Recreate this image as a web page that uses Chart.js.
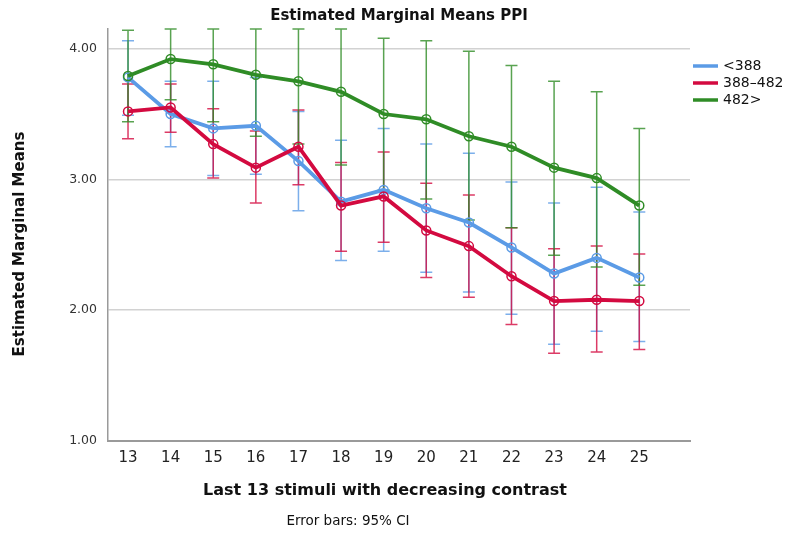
<!DOCTYPE html>
<html>
<head>
<meta charset="utf-8">
<script src="https://cdn.jsdelivr.net/npm/chart.js@4/dist/chart.umd.min.js"></script>
<style>
  body { margin: 0; background: #fff; }
  #wrap { width: 785px; height: 535px; }
</style>
</head>
<body>
<div id="wrap"><canvas id="emm-chart"></canvas></div>
<script>
// stimuli on the x axis
const stimuli = [13, 14, 15, 16, 17, 18, 19, 20, 21, 22, 23, 24, 25];
const yTicks = [1, 2, 3, 4];
const groupNames = ['<388', '388–482', '482>'];

// estimated marginal means per group, with 95% CI bounds
const meanLow = [3.78, 3.50, 3.39, 3.41, 3.14, 2.83, 2.92, 2.78, 2.67, 2.48, 2.28, 2.40, 2.25];
const lowerLow = [3.49, 3.25, 3.03, 3.04, 2.76, 2.38, 2.45, 2.29, 2.14, 1.97, 1.74, 1.84, 1.76];
const upperLow = [4.06, 3.75, 3.75, 3.78, 3.52, 3.30, 3.39, 3.27, 3.20, 2.98, 2.82, 2.94, 2.75];

const meanMid = [3.52, 3.55, 3.27, 3.09, 3.25, 2.80, 2.87, 2.61, 2.49, 2.26, 2.07, 2.08, 2.07];
const lowerMid = [3.31, 3.36, 3.01, 2.82, 2.96, 2.45, 2.52, 2.25, 2.10, 1.89, 1.67, 1.68, 1.70];
const upperMid = [3.73, 3.73, 3.54, 3.37, 3.53, 3.13, 3.21, 2.97, 2.88, 2.63, 2.47, 2.49, 2.43];

const meanHigh = [3.79, 3.92, 3.88, 3.80, 3.75, 3.67, 3.50, 3.46, 3.33, 3.25, 3.09, 3.01, 2.80];
const lowerHigh = [3.44, 3.61, 3.44, 3.33, 3.27, 3.11, 2.92, 2.85, 2.69, 2.63, 2.42, 2.33, 2.19];
const upperHigh = [4.14, 4.23, 4.32, 4.27, 4.23, 4.23, 4.08, 4.06, 3.98, 3.87, 3.75, 3.67, 3.39];

const FONT = 'DejaVu Sans';

function toPoints(values) {
  return stimuli.map((s, i) => ({ x: s, y: values[i] }));
}

// error bars, caps are drawn at the plot edge when the interval is cut off
const errorBars = {
  id: 'errorBars',
  beforeDatasetsDraw(chart) {
    const { ctx, chartArea, scales } = chart;
    ctx.save();
    chart.data.datasets.forEach((ds) => {
      ctx.strokeStyle = ds.barColor;
      ctx.lineWidth = 1.5;
      stimuli.forEach((s, i) => {
        const x = scales.x.getPixelForValue(s);
        const yTop = Math.max(chartArea.top, scales.y.getPixelForValue(ds.upper[i]));
        const yBot = Math.min(chartArea.bottom, scales.y.getPixelForValue(ds.lower[i]));
        ctx.beginPath();
        ctx.moveTo(x, yTop);
        ctx.lineTo(x, yBot);
        ctx.moveTo(x - 6, yTop);
        ctx.lineTo(x + 6, yTop);
        ctx.moveTo(x - 6, yBot);
        ctx.lineTo(x + 6, yBot);
        ctx.stroke();
      });
    });
    ctx.restore();
  },
};

// titles, footnote and legend
const texts = {
  id: 'texts',
  afterDraw(chart) {
    const { ctx, chartArea } = chart;
    const midX = (chartArea.left + chartArea.right) / 2;
    ctx.save();
    ctx.fillStyle = '#111';
    ctx.textAlign = 'center';
    ctx.textBaseline = 'middle';

    ctx.font = 'bold 15px ' + FONT;
    ctx.fillText('Estimated Marginal Means PPI', midX, 16);

    ctx.font = 'bold 16px ' + FONT;
    ctx.fillText('Last 13 stimuli with decreasing contrast', midX - 14, 491);

    ctx.font = 'bold 15px ' + FONT;
    ctx.save();
    ctx.translate(20, 244);
    ctx.rotate(-Math.PI / 2);
    ctx.fillText('Estimated Marginal Means', 0, 0);
    ctx.restore();

    ctx.font = '13.5px ' + FONT;
    ctx.fillText('Error bars: 95% CI', 348, 521);

    ctx.textAlign = 'left';
    ctx.font = '14px ' + FONT;
    chart.data.datasets.forEach((ds, i) => {
      const y = 66 + i * 17;
      ctx.strokeStyle = ds.borderColor;
      ctx.lineWidth = 3.5;
      ctx.beginPath();
      ctx.moveTo(693, y);
      ctx.lineTo(718, y);
      ctx.stroke();
      ctx.fillText(ds.label, 723, y);
    });
    ctx.restore();
  },
};

function series(label, means, lower, upper, color, barColor, order) {
  return {
    label,
    data: toPoints(means),
    lower,
    upper,
    barColor,
    order,
    borderColor: color,
    borderWidth: 3.8,
    pointRadius: 4.5,
    pointBorderWidth: 1.5,
    pointBackgroundColor: 'rgba(255,255,255,0)',
    pointBorderColor: color,
    tension: 0,
  };
}

const ctx = document.getElementById('emm-chart');
const chart = new Chart(ctx, {
  type: 'line',
  data: {
    datasets: [
      series(groupNames[0], meanLow, lowerLow, upperLow, '#5b9be6', 'rgba(91,155,230,0.8)', 2),
      series(groupNames[1], meanMid, lowerMid, upperMid, '#d30a40', 'rgba(211,10,64,0.8)', 0),
      series(groupNames[2], meanHigh, lowerHigh, upperHigh, '#2f8c26', 'rgba(47,140,38,0.8)', 1),
    ],
  },
  options: {
    responsive: true,
    maintainAspectRatio: false,
    animation: false,
    layout: { padding: { left: 38, right: 95, top: 29, bottom: 0 } },
    plugins: {
      legend: { display: false },
      title: { display: false },
      tooltip: { enabled: false },
    },
    scales: {
      x: {
        type: 'linear',
        min: 12.53,
        max: 26.19,
        afterBuildTicks: (s) => { s.ticks = stimuli.map((v) => ({ value: v })); },
        afterFit: (s) => { s.height = 94; },
        grid: { display: false, drawTicks: false },
        border: { color: '#9a9a9a', width: 2 },
        ticks: {
          font: { family: FONT, size: 15 },
          color: '#222',
          padding: 8,
          maxRotation: 0,
          autoSkip: false,
          callback: (v) => String(v),
        },
      },
      y: {
        min: 1,
        max: 4.15,
        afterBuildTicks: (s) => { s.ticks = yTicks.map((v) => ({ value: v })); },
        afterFit: (s) => { s.width = 70; },
        grid: { color: '#d2d2d2', lineWidth: 1.5, drawTicks: false },
        border: { color: '#9a9a9a', width: 1.5 },
        ticks: {
          font: { family: FONT, size: 12.5 },
          color: '#333',
          padding: 11,
          callback: (v) => v.toFixed(2),
        },
      },
    },
  },
  plugins: [errorBars, texts],
});
</script>
</body>
</html>
